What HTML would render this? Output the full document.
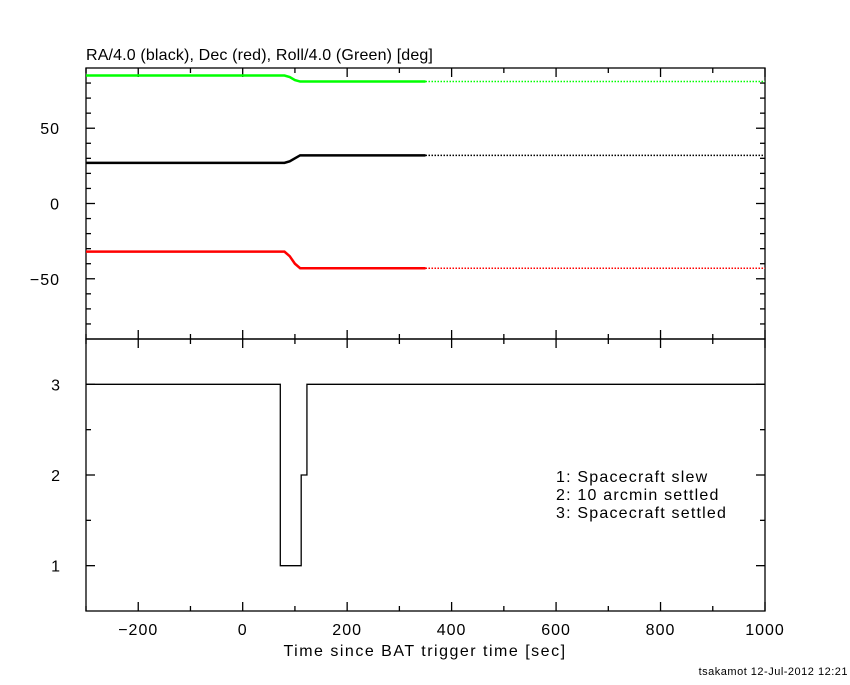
<!DOCTYPE html>
<html><head><meta charset="utf-8"><style>
body{margin:0;background:#fff;}
svg text{font-family:"Liberation Sans",sans-serif;font-size:16px;fill:#000;}
</style></head><body>
<svg id="c" width="850" height="680" xmlns="http://www.w3.org/2000/svg"></svg>
<script>
const timesPos=[-300,80,90,100,110,350,1000];
const raVals=[27,27,28,30,32,32,32];
const decVals=[-32,-32,-35,-40,-43,-43,-43];
const rollVals=[85,85,84,82,81,81,81];
const stepTimes=[-300,72,112,123,1000];
const stepVals=[3,1,2,3,3];
const xTicks=[-200,0,200,400,600,800,1000];
const topTicks=[-50,0,50];
const botTicks=[1,2,3];
const solidEnd=350;

const NS='http://www.w3.org/2000/svg';
const svg=document.getElementById('c');
const L=86,R=765,T=68,M=339,B=611;
const x=t=>L+(t+300)/1300*(R-L);
const yT=v=>T+(90-v)/180*(M-T);
const yB=v=>M+(3.5-v)/3*(B-M);
function mk(tag,attrs,parent){const e=document.createElementNS(NS,tag);for(const k in attrs)e.setAttribute(k,attrs[k]);(parent||svg).appendChild(e);return e;}
function line(x1,y1,x2,y2,name){const e=mk('line',{x1,y1,x2,y2,stroke:'#000','stroke-width':1.3});

return e;}
function text(s,xx,yy,anchor,name,ls){const e=mk('text',{x:xx,y:yy,'text-anchor':anchor});e.textContent=s;
if(ls)e.setAttribute('letter-spacing',ls);

return e;}

const f1=mk('rect',{x:L,y:T,width:R-L,height:M-T,fill:'none',stroke:'#000','stroke-width':1.3});


const f2=mk('rect',{x:L,y:M,width:R-L,height:B-M,fill:'none',stroke:'#000','stroke-width':1.3});



for(let t=-300;t<=1000;t+=100){const len=(t%200===0)?9:5;const xx=x(t);
[T,M].forEach(y0=>line(xx,y0,xx,y0+len,'x-tick'));
[M,B].forEach(y0=>line(xx,y0,xx,y0-len,'x-tick'));}
xTicks.forEach(t=>text(t<0?'\u2212'+(-t):String(t),x(t),635,'middle','x-tick-label','1'));
for(let v=-80;v<=80;v+=10){const len=(v%50===0)?9:5;const yy=yT(v);line(L,yy,L+len,yy,'y-tick');line(R,yy,R-len,yy,'y-tick');}
topTicks.forEach(v=>text(v<0?'\u2212'+(-v):String(v),60,yT(v)+6,'end','top-y-tick-label','1'));
for(let v=1;v<=3;v+=0.5){const len=(v%1===0)?9:5;const yy=yB(v);line(L,yy,L+len,yy,'y-tick');line(R,yy,R-len,yy,'y-tick');}
botTicks.forEach(v=>text(String(v),60,yB(v)+6,'end','bottom-y-tick-label'));

function series(vals,color,name){
  let ps=[],pd=[];
  for(let i=0;i<timesPos.length;i++){const t=timesPos[i];
    if(t<=solidEnd)ps.push(x(t)+','+yT(vals[i]));
    if(t>=solidEnd)pd.push(x(t)+','+yT(vals[i]));}
  const a=mk('polyline',{points:ps.join(' '),fill:'none',stroke:color,'stroke-width':2.5});
  
  
  const b=mk('polyline',{points:pd.join(' '),fill:'none',stroke:color,'stroke-width':1.5,'stroke-dasharray':'1.5,1.5'});
  
  
}
series(rollVals,'#00ff00','roll-line');
series(raVals,'#000','ra-line');
series(decVals,'#ff0000','dec-line');

let sp=[];
for(let i=0;i<stepTimes.length-1;i++){sp.push(x(stepTimes[i])+','+yB(stepVals[i]));sp.push(x(stepTimes[i+1])+','+yB(stepVals[i]));}
const st=mk('polyline',{points:sp.join(' '),fill:'none',stroke:'#000','stroke-width':1.3});



text('RA/4.0 (black), Dec (red), Roll/4.0 (Green) [deg]',86,60,'start','top-panel-title','0.15');
text('Time since BAT trigger time [sec]',425,656,'middle','x-axis-title','1.5');
text('1: Spacecraft slew',556,482,'start','legend-1','1.2');
text('2: 10 arcmin settled',556,500,'start','legend-2','1.2');
text('3: Spacecraft settled',556,518,'start','legend-3','1.2');
const ft=text('tsakamot 12-Jul-2012 12:21',848,675,'end','footer','0.5');ft.setAttribute('style','font-size:11px');
</script>
</body></html>
